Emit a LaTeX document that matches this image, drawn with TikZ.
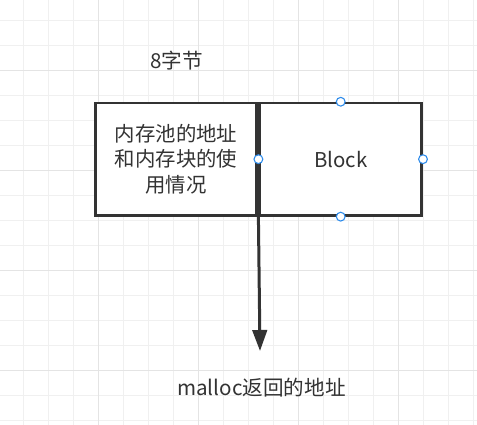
\documentclass[tikz,border=0pt]{standalone}
\usepackage{fontspec}
\setmainfont{Noto Sans CJK SC}
\usetikzlibrary{arrows.meta}
\definecolor{txt}{HTML}{333333}
\definecolor{gridminor}{HTML}{F0F0F0}
\definecolor{gridmajor}{HTML}{E4E4E4}
\definecolor{handle}{HTML}{2F8CEB}
\tikzset{
  cell/.style={draw=txt, line width=2.6pt, fill=white, minimum height=112.3pt, inner sep=0pt, text=txt, align=center, font=\fontsize{20.4pt}{25.5pt}\selectfont},
  label/.style={text=txt, inner sep=0pt, font=\fontsize{20.6pt}{25.5pt}\selectfont},
  handlept/.style={circle, draw=handle, fill=white, line width=1.1pt, minimum size=8.8pt, inner sep=0pt},
  conn/.style={draw=txt, line width=3pt, -{Triangle[length=21pt,width=14.5pt]}}
}
\begin{document}
\begin{tikzpicture}[x=1pt,y=-1pt]
\useasboundingbox (0,0) rectangle (477,425);
\fill[white] (0,0) rectangle (477,425);
% grid
\foreach \i in {0,...,18} {
  \pgfmathsetmacro{\gx}{23.3+25*\i}
  \draw[gridminor, line width=1pt] (\gx,0) -- (\gx,425);
}
\foreach \i in {0,...,16} {
  \pgfmathsetmacro{\gy}{20.7+25*\i}
  \draw[gridminor, line width=1pt] (0,\gy) -- (477,\gy);
}
\foreach \gx in {98.3,198.3,298.3,398.3} \draw[gridmajor, line width=1pt] (\gx,0) -- (\gx,425);
\foreach \gy in {70.7,170.7,270.7,370.7} \draw[gridmajor, line width=1pt] (0,\gy) -- (477,\gy);
% boxes
\node[cell, minimum width=161.4pt] (meta) at (176,159.2) {内存池的地址\\和内存块的使\\用情况};
\node[cell, minimum width=162pt] (block) at (340.7,159.2) {Block};
% labels
\node[label] (bytes) at (176.7,61) {8字节};
\node[label] (ret) at (261.5,388) {malloc返回的地址};
% arrow
\coordinate (tip) at (260,351);
\draw[conn] (block.south west) -- (tip);
% handles
\node[handlept] (h1) at (block.north) {};
\node[handlept] (h2) at (block.west) {};
\node[handlept] (h3) at (block.east) {};
\node[handlept] (h4) at (block.south) {};
\end{tikzpicture}
\end{document}
